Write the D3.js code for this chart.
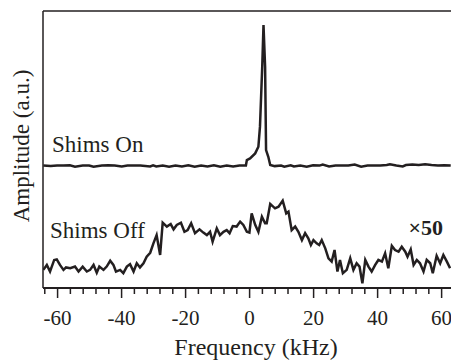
<!DOCTYPE html>
<html>
<head>
<meta charset="utf-8">
<script src="https://cdn.jsdelivr.net/npm/d3@7"></script>
<style>
  body { margin: 0; background: #fff; }
  svg text { font-family: 'Liberation Serif', 'Times New Roman', Times, 'DejaVu Serif', serif !important; }
</style>
</head>
<body>
<div id="graph"></div>
<script>
// spectrum with shims on: [frequency kHz, amplitude a.u.]
var shimsOn = [
    [-64.3, 44.0], [-62, 43.8], [-60, 44.0], [-58, 44.0], [-56, 44.1], [-54.4, 43.6],
    [-52, 44.0], [-50, 44.0], [-48.6, 43.6], [-46, 44.0], [-44, 44.1], [-42, 44.0],
    [-39.8, 43.7], [-38, 44.0], [-36, 44.0], [-34, 44.0], [-30.9, 43.7], [-30, 44.1],
    [-29, 43.7], [-27, 44.0], [-25, 43.6], [-23, 44.0], [-21, 43.7], [-19, 44.1],
    [-17, 43.6], [-15, 44.0], [-13, 43.7], [-11, 44.1], [-9, 43.6], [-7, 44.0],
    [-5, 43.7], [-3, 44.0], [-1.0, 44.0],
    [-0.7, 46.0], [0.3, 46.6], [1.9, 48.4], [2.9, 50.8], [3.4, 58.1], [4.1, 79.8],
    [4.5, 94.9], [5.0, 79.8], [5.3, 49.6], [6.0, 47.2], [6.6, 44.2],
    [8, 43.8], [10, 44.0], [11, 43.6], [13, 44.1], [14, 43.7], [16, 44.0], [18, 43.6],
    [20, 44.1], [22, 44.0], [23, 44.4], [25, 43.7], [27, 44.0], [29, 44.0], [31, 44.0],
    [33, 44.4], [35, 43.6], [37, 44.0], [39, 44.0], [41, 44.0], [43, 44.2], [44, 44.5],
    [46, 44.0], [48, 43.7], [49, 44.2], [51, 44.4], [53, 44.2], [55, 44.5], [57, 44.2],
    [59, 44.0], [61, 44.1], [63, 44.0]
];

// spectrum with shims off (x50), [frequency kHz, amplitude a.u.]
var shimsOff = [
    [-64.3, 6.2], [-63.2, 8.0], [-62.2, 5.6], [-60.9, 9.8], [-60.1, 10.0], [-59.1, 8.0],
    [-58.0, 6.2], [-57.2, 7.1], [-55.9, 6.8], [-54.4, 7.4], [-53.3, 5.6], [-52.0, 7.4],
    [-50.7, 5.6], [-49.7, 6.2], [-48.6, 8.0], [-47.6, 5.2], [-46.8, 7.4], [-45.5, 6.2],
    [-44.5, 7.4], [-43.4, 9.5], [-42.4, 8.0], [-41.6, 5.6], [-40.3, 6.2], [-39.3, 5.0],
    [-38.2, 7.4], [-37.2, 8.3], [-36.1, 5.6], [-35.1, 8.6], [-34.1, 7.1], [-33.0, 8.6],
    [-32.0, 11.0], [-30.9, 12.4], [-29.9, 15.8], [-28.9, 18.8], [-27.8, 11.6], [-27.0, 23.3],
    [-25.7, 21.9], [-24.5, 22.8], [-23.6, 20.9], [-22.6, 22.5], [-21.3, 23.3], [-20.2, 20.0],
    [-19.2, 20.6], [-18.1, 23.1], [-16.9, 19.5], [-15.5, 20.9], [-14.3, 19.7], [-13.2, 18.8],
    [-12.2, 20.0], [-11.4, 16.4], [-10.1, 21.2], [-9.1, 18.8], [-8.0, 20.0], [-7.0, 20.6],
    [-6.1, 19.5], [-5.1, 22.1], [-3.9, 21.9], [-2.8, 23.7], [-1.8, 22.5], [-0.7, 20.0],
    [0.1, 19.7], [0.8, 26.7], [1.9, 22.5], [2.9, 20.0], [4.0, 25.5], [5.0, 23.1],
    [5.5, 23.1], [6.6, 30.1], [8.1, 28.5], [9.2, 29.1], [10.5, 31.3], [11.6, 26.7],
    [12.3, 27.3], [13.3, 20.6], [14.4, 21.9], [15.4, 20.0], [16.5, 17.0], [17.5, 19.5],
    [18.5, 17.6], [19.3, 15.2], [20.1, 17.0], [21.1, 15.8], [21.9, 15.2], [22.7, 17.0],
    [23.8, 14.0], [24.8, 10.4], [25.8, 9.2], [26.7, 13.4], [27.6, 5.6], [28.4, 9.8],
    [29.3, 5.0], [30.5, 6.2], [31.6, 10.4], [32.6, 6.2], [33.6, 8.6], [34.5, 7.4],
    [35.4, 1.3], [36.3, 9.8], [37.3, 7.4], [38.3, 5.6], [39.4, 8.0], [40.4, 9.8],
    [41.5, 9.2], [42.5, 12.2], [43.5, 6.8], [44.6, 14.9], [45.6, 13.4], [46.7, 12.8],
    [47.7, 14.6], [48.8, 12.8], [49.5, 11.0], [50.5, 13.6], [51.4, 8.0], [52.4, 9.8],
    [53.4, 8.6], [54.5, 5.6], [55.5, 9.8], [56.6, 8.6], [57.4, 5.0], [58.6, 11.3],
    [59.7, 8.6], [60.7, 11.6], [61.8, 9.2], [62.8, 6.8]
];

var majorTicks = [-60, -40, -20, 0, 20, 40, 60];
var minorTicks = [-64, -56, -52, -48, -44, -36, -32, -28, -24, -16, -12, -8, -4,
                  4, 8, 12, 16, 24, 28, 32, 36, 44, 48, 52, 56];

var serif = "'Liberation Serif', 'Times New Roman', Times, serif";

function draw_function() {
    var ink = "#231f20";
    var svg = d3.select("#graph")
        .append("svg")
        .attr("width", 451).attr("height", 360);

    // plot box, right side runs off the page
    var left = 43, right = 452, top = 11, bottom = 287;

    var x = d3.scaleLinear().domain([-64.4, 63.4]).range([left, right]);
    var y = d3.scaleLinear().domain([0, 100]).range([bottom, top]);

    svg.append("clipPath").attr("id", "plotclip")
        .append("rect")
        .attr("x", left).attr("y", 0)
        .attr("width", right - left).attr("height", bottom + 2);

    var line = d3.line()
        .x(function(d) { return x(d[0]); })
        .y(function(d) { return y(d[1]); });

    var traces = svg.append("g").attr("clip-path", "url(#plotclip)");
    [shimsOn, shimsOff].forEach(function(series) {
        traces.append("path")
            .datum(series)
            .attr("d", line)
            .attr("fill", "none")
            .attr("stroke", ink)
            .attr("stroke-width", 2.5)
            .attr("stroke-linejoin", "miter");
    });

    // frame: top and left lines
    svg.append("line")
        .attr("x1", left).attr("x2", 451)
        .attr("y1", top).attr("y2", top)
        .attr("stroke", ink).attr("stroke-width", 1.5);
    svg.append("line")
        .attr("x1", left).attr("x2", left)
        .attr("y1", top).attr("y2", bottom + 1)
        .attr("stroke", ink).attr("stroke-width", 1.5);

    // bottom axis: minor ticks, then major ticks with labels
    var axisY = bottom + 1;
    svg.append("g")
        .attr("transform", "translate(0," + axisY + ")")
        .call(d3.axisBottom(x).tickValues(minorTicks).tickSize(6).tickFormat(""))
        .call(function(g) {
            g.select(".domain").remove();
            g.selectAll("line").attr("stroke", ink).attr("stroke-width", 1.5);
        });
    svg.append("g")
        .attr("transform", "translate(0," + axisY + ")")
        .call(d3.axisBottom(x).tickValues(majorTicks).tickSize(10).tickPadding(12)
              .tickFormat(function(d) { return d < 0 ? "-" + Math.abs(d) : String(d); }))
        .call(function(g) {
            g.select(".domain").remove();
            g.attr("font-family", serif).attr("font-size", 21);
            g.selectAll("line").attr("stroke", ink).attr("stroke-width", 1.5);
            g.selectAll("text").attr("fill", ink);
        });
    svg.append("line")
        .attr("x1", left).attr("x2", 451)
        .attr("y1", axisY).attr("y2", axisY)
        .attr("stroke", ink).attr("stroke-width", 2);

    // axis titles
    svg.append("text")
        .attr("x", 256).attr("y", 355)
        .attr("text-anchor", "middle")
        .attr("font-family", serif).attr("font-size", 24).attr("fill", ink)
        .text("Frequency (kHz)");
    svg.append("text")
        .attr("transform", "translate(29,146) rotate(-90)")
        .attr("text-anchor", "middle")
        .attr("font-family", serif).attr("font-size", 23).attr("fill", ink)
        .text("Amplitude (a.u.)");

    // trace labels
    svg.append("text")
        .attr("x", 52).attr("y", 152)
        .attr("font-family", serif).attr("font-size", 23).attr("fill", ink)
        .text("Shims On");
    svg.append("text")
        .attr("x", 50).attr("y", 238)
        .attr("font-family", serif).attr("font-size", 23).attr("fill", ink)
        .text("Shims Off");
    svg.append("text")
        .attr("x", 443).attr("y", 235)
        .attr("text-anchor", "end")
        .attr("font-family", serif).attr("font-size", 22).attr("font-weight", "bold")
        .attr("fill", ink)
        .text("\u00d750");
}

window.onload = draw_function;
</script>
</body>
</html>
